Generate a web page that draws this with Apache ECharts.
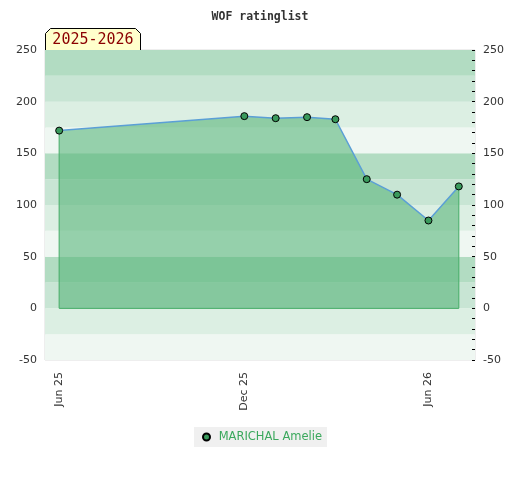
<!DOCTYPE html>
<html>
<head>
<meta charset="utf-8">
<script src="https://cdn.jsdelivr.net/npm/echarts@6/dist/echarts.min.js"></script>
<style>html,body{margin:0;padding:0;background:#fff}#c{width:520px;height:480px}</style>
</head>
<body>
<div id="c"></div>
<script>
var dates = ['2025-06-01','2025-12-01','2026-01-01','2026-02-01','2026-03-01','2026-04-01','2026-05-01','2026-06-01','2026-07-01'];
var ratings = [172, 186, 184, 185, 183, 125, 110, 85, 118];
var seriesName = 'MARICHAL Amelie';
var xTickDates = ['2025-06-01','2025-12-01','2026-06-01'];
var xTickLabels = ['Jun 25','Dec 25','Jun 26'];
var seasonLabel = '2025-2026';
var titleText = 'WOF ratinglist';

function ts(d){ return new Date(d + 'T00:00:00Z').getTime(); }
var lineData = dates.map(function(d,i){ return [ts(d), ratings[i]]; });
var n = dates.length;
var outline = [[ts(dates[0]), ratings[0]], [ts(dates[0]), 0], [ts(dates[n-1]), 0], [ts(dates[n-1]), ratings[n-1]]];
var tickTs = xTickDates.map(ts);
var labelMap = {};
tickTs.forEach(function(t,i){ labelMap[t] = xTickLabels[i]; });

var chart = echarts.init(document.getElementById('c'), null, {renderer:'canvas'});
var axisLabelStyle = {color:'#333', fontSize:11, fontFamily:'DejaVu Sans'};
chart.setOption({
  animation:false,
  title:{text:titleText, left:'center', top:6, textStyle:{fontFamily:'DejaVu Sans Mono', fontWeight:'bold', fontSize:11.5, color:'#333'}},
  grid:{left:45, right:45, top:50, bottom:120, show:true, borderColor:'#ddd', borderWidth:1, backgroundColor:'transparent'},
  legend:{data:[{name:seriesName, icon:'circle'}], bottom:33, left:194, backgroundColor:'#f0f0f0', padding:[4,5,4,8], itemWidth:7, itemHeight:7,
    formatter:function(nm){ return ' ' + nm; },
    textStyle:{color:'#3aa85c', fontSize:11.5, fontFamily:'DejaVu Sans'}},
  xAxis:{type:'value', min:ts('2025-05-18'), max:ts('2026-07-17'), scale:true,
    axisLine:{show:false}, axisTick:{show:false}, splitLine:{show:false},
    axisLabel:{customValues:tickTs, rotate:90, margin:12, color:'#333', fontSize:11, fontFamily:'DejaVu Sans',
      formatter:function(v){ return labelMap[v] || ''; }}},
  yAxis:[
    {type:'value', position:'left', min:-50, max:250, interval:50, axisLine:{show:false}, axisTick:{show:false},
      splitLine:{show:false}, axisLabel:Object.assign({margin:8}, axisLabelStyle)},
    {type:'value', position:'right', min:-50, max:250, interval:50, axisLine:{show:false},
      axisTick:{show:true, inside:true, length:3, lineStyle:{color:'#000'}},
      minorTick:{show:true, splitNumber:5, length:3, lineStyle:{color:'#000'}},
      splitLine:{show:false}, axisLabel:Object.assign({margin:8}, axisLabelStyle)},
    {type:'value', position:'left', min:-50, max:250, interval:25, show:true, axisLine:{show:false}, axisTick:{show:false},
      axisLabel:{show:false}, splitLine:{show:false},
      splitArea:{show:true, areaStyle:{color:['#eff7f2','#dcefe3','#c8e5d4','#b2dcc2']}}}
  ],
  graphic:[{type:'group', left:45, top:28, z:100, children:[
    {type:'polygon', shape:{points:[[0,5],[5,0],[90,0],[95,5],[95,22],[0,22]]}, style:{fill:'#ffffcc', stroke:'#000', lineWidth:1}},
    {type:'text', x:47.5, y:12, style:{text:seasonLabel, fill:'#8b0000', font:'15px "DejaVu Sans Mono"', textAlign:'center', textVerticalAlign:'middle'}}
  ]}],
  series:[
    {name:'outline', type:'line', data:outline, symbol:'none', silent:true, lineStyle:{color:'#3aa85c', width:1}, z:2},
    {name:seriesName, type:'line', data:lineData, symbol:'circle', symbolSize:7, z:3,
      lineStyle:{color:'#5b9fd6', width:1.5},
      itemStyle:{color:'#3a9a5c', borderColor:'#000', borderWidth:1},
      areaStyle:{color:'rgba(86,181,120,0.59)', opacity:1, origin:0}}
  ]
});
</script>
</body>
</html>
